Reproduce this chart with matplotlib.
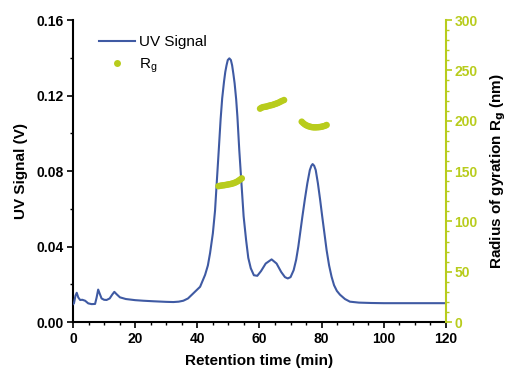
import matplotlib
matplotlib.use("Agg")
import matplotlib.pyplot as plt
from matplotlib.ticker import MultipleLocator
from matplotlib.lines import Line2D

plt.rcParams['font.family'] = ['Liberation Sans', 'DejaVu Sans']

# UV signal trace
time_min = [0, 0.3, 0.8, 1.2, 1.7, 2.3, 3, 3.9, 4.9, 6, 7.1, 7.6, 8.1, 8.6, 9.2, 10,
            10.8, 11.8, 12.6, 13.3, 14, 15.1, 17, 20, 22.6, 26, 30, 32.3, 34, 35.5,
            37, 38.7, 40.9, 42.5, 43.4, 44.1, 45.0, 45.7, 46.2, 46.9, 47.5, 48.0,
            48.6, 49.0, 49.4, 49.8, 50.3, 50.8, 51.2, 51.6, 52.0, 52.5, 52.9, 53.5,
            54.2, 54.9, 55.7, 56.4, 57.2, 58.2, 59.3, 60.5, 62, 63.9, 65.5, 67,
            68.2, 69.1, 70.0, 71.0, 71.8, 72.5, 73.8, 74.6, 75.4, 76.2, 76.7, 77.1,
            77.6, 78.1, 78.8, 79.5, 80.2, 80.9, 81.6, 82.4, 83.2, 84.0, 84.9, 85.9,
            87.5, 89.1, 92, 96, 100, 110, 120]
uv_signal = [0.0095, 0.0099, 0.014, 0.0155, 0.013, 0.0117, 0.0118, 0.0113, 0.0099,
             0.0095, 0.0096, 0.013, 0.0172, 0.015, 0.0125, 0.0118, 0.0117, 0.0125,
             0.0145, 0.016, 0.0148, 0.0131, 0.0122, 0.0116, 0.0113, 0.011, 0.0107,
             0.0106, 0.0108, 0.0113, 0.0125, 0.0152, 0.0187, 0.025, 0.030, 0.0365,
             0.047, 0.059, 0.0725, 0.0911, 0.1075, 0.1185, 0.1275, 0.1325, 0.1360,
             0.1388, 0.1397, 0.1388, 0.136, 0.1315, 0.1265, 0.118, 0.1088, 0.0911,
             0.0735, 0.056, 0.0434, 0.034, 0.0285, 0.0248, 0.0245, 0.027, 0.031,
             0.0332, 0.031, 0.0265, 0.0238, 0.0231, 0.0238, 0.0275, 0.033, 0.040,
             0.0558, 0.065, 0.0735, 0.0805, 0.0828, 0.0837, 0.0828, 0.0805, 0.0735,
             0.065, 0.0558, 0.047, 0.0381, 0.030, 0.024, 0.0195, 0.0165, 0.0145,
             0.0122, 0.0108, 0.0103, 0.0101, 0.0100, 0.0100, 0.0100]

# Radius of gyration points
rg_time = [46.8, 47.3, 47.8, 48.3, 48.8, 49.3, 49.8, 50.3, 50.8, 51.3, 51.8, 52.3,
           52.8, 53.3, 53.8, 54.3,
           60.2, 60.7, 61.2, 61.7, 62.2, 62.7, 63.2, 63.7, 64.2, 64.7, 65.2, 65.7,
           66.2, 66.7, 67.2, 67.9,
           73.6, 74.1, 74.6, 75.1, 75.6, 76.1, 76.6, 77.1, 77.6, 78.1, 78.6, 79.1,
           79.6, 80.1, 80.6, 81.1, 81.6]
rg_nm = [135.0, 135.3, 135.6, 135.8, 136.0, 136.3, 136.6, 136.9, 137.2, 137.6, 138.1,
         138.7, 139.5, 140.5, 141.6, 142.7,
         212.0, 213.0, 213.5, 213.8, 214.0, 214.5, 215.0, 215.3, 215.7, 216.2, 216.8,
         217.3, 218.0, 218.8, 219.6, 220.5,
         199.0, 197.5, 196.3, 195.4, 194.7, 194.2, 193.8, 193.5, 193.4, 193.4, 193.5,
         193.6, 193.8, 194.1, 194.5, 195.0, 195.7]

x_ticks = [0, 20, 40, 60, 80, 100, 120]
uv_ticks = [0.00, 0.04, 0.08, 0.12, 0.16]
rg_ticks = [0, 50, 100, 150, 200, 250, 300]

blue = '#3f5aa3'
green = '#b8cc1c'

fig = plt.figure(figsize=(5.29, 3.78), dpi=100)
ax = fig.add_axes([0.138, 0.148, 0.705, 0.799])
ax2 = ax.twinx()

ax.plot(time_min, uv_signal, color=blue, lw=1.5, zorder=3, solid_joinstyle='round')
ax2.scatter(rg_time, rg_nm, s=22, color=green, edgecolors='none', zorder=4)

ax.set_xlim(0, 120)
ax.set_ylim(0, 0.16)
ax2.set_ylim(0, 300)

ax.set_xticks(x_ticks)
ax.set_xticklabels([str(v) for v in x_ticks])
ax.xaxis.set_minor_locator(MultipleLocator(5))
ax.set_yticks(uv_ticks)
ax.set_yticklabels([f"{v:.2f}" for v in uv_ticks])
ax.yaxis.set_minor_locator(MultipleLocator(0.02))
ax2.set_yticks(rg_ticks)
ax2.set_yticklabels([str(v) for v in rg_ticks])
ax2.yaxis.set_minor_locator(MultipleLocator(10))

for a in (ax, ax2):
    a.spines['top'].set_visible(False)
ax.spines['right'].set_visible(False)
ax2.spines['left'].set_visible(False)
ax2.spines['bottom'].set_visible(False)
ax2.spines['right'].set_color(green)
ax2.spines['right'].set_linewidth(1.5)
ax.spines['left'].set_linewidth(1.5)
ax.spines['bottom'].set_linewidth(1.5)

ax.tick_params(axis='both', which='major', direction='out', length=4, width=1.2,
               labelsize=10, pad=3)
ax.tick_params(axis='both', which='minor', direction='out', length=2.5, width=1.0)
ax2.tick_params(axis='y', which='major', direction='out', length=4, width=1.2,
                colors=green, labelsize=10, pad=2)
ax2.tick_params(axis='y', which='minor', direction='out', length=2.5, width=1.0,
                colors=green)
for lbl in ax.get_xticklabels() + ax.get_yticklabels() + ax2.get_yticklabels():
    lbl.set_fontweight('bold')

ax.set_xlabel('Retention time (min)', fontsize=11, fontweight='bold', labelpad=6)
ax.set_ylabel('UV Signal (V)', fontsize=11, fontweight='bold', labelpad=6)
ax2.set_ylabel('Radius of gyration R$_\\mathbf{g}$ (nm)', fontsize=11,
               fontweight='bold', labelpad=8)

handles = [Line2D([0], [0], color=blue, lw=1.5),
           Line2D([0], [0], color=green, marker='o', lw=0, markersize=5,
                  markeredgewidth=0)]
ax.legend(handles, ['UV Signal', 'R$_\\mathregular{g}$'], loc='upper left',
          bbox_to_anchor=(0.04, 0.985), frameon=False, fontsize=11,
          handlelength=2.4, handletextpad=0.25, labelspacing=0.45, borderpad=0.2)

fig.savefig('out.png', dpi=100)
